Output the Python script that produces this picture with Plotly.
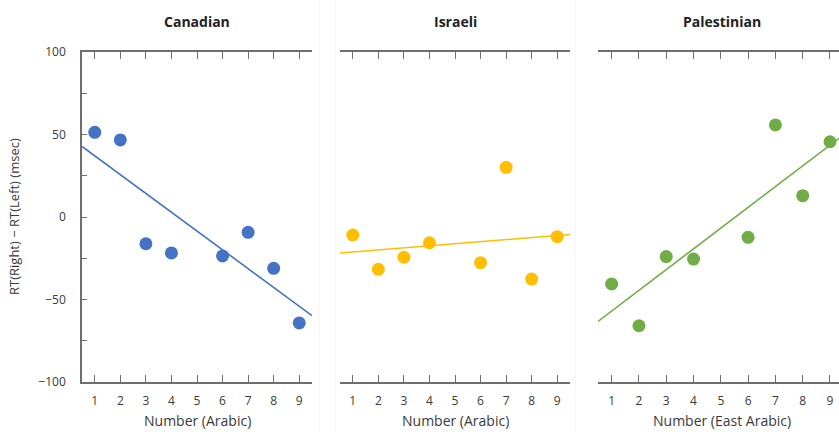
import numpy as np
import plotly.graph_objects as go

# Mean RT asymmetry per number, by participant group
numbers = [1, 2, 3, 4, 6, 7, 8, 9]
canadian = [51.3, 46.7, -16.2, -21.8, -23.6, -9.3, -31.1, -64.2]
israeli = [-10.9, -31.7, -24.4, -15.6, -27.7, 30.1, -37.6, -11.9]
palestinian = [-40.6, -65.9, -24.0, -25.5, -12.3, 55.8, 12.9, 45.6]

titles = ["Canadian", "Israeli", "Palestinian"]
xtitles = ["Number (Arabic)", "Number (Arabic)", "Number (East Arabic)"]
ytitle = "RT(Right) \u2212 RT(Left) (msec)"
colors = ["#4472c4", "#ffbf00", "#70ad47"]
x_ticks = [1, 2, 3, 4, 5, 6, 7, 8, 9]
y_ticks = [100, 75, 50, 25, 0, -25, -50, -75, -100]
y_ticktext = ["100", "", "50", "", "0", "", "\u221250", "", "\u2212100"]

W, H = 839, 432
FONT = "Open Sans"
AXIS_COLOR = "#6e6e6e"
TEXT_COLOR = "#3a3a3a"

# panel placement in pixels (left, right) and x ranges
panels_px = [(82, 312), (340, 570), (598, 839)]
x_ranges = [[0.5, 9.5], [0.5, 9.5], [0.5, 9.33]]
title_centers = [197, 455, 722]
y_top, y_bot = 52, 382

fig = go.Figure()
series = [canadian, israeli, palestinian]

for i, (vals, col) in enumerate(zip(series, colors)):
    ax = "" if i == 0 else str(i + 1)
    slope, icpt = np.polyfit(numbers, vals, 1)
    fx = np.array(x_ranges[i])
    fig.add_trace(go.Scatter(
        x=fx, y=slope * fx + icpt, mode="lines",
        line=dict(color=col, width=1.6),
        xaxis="x" + ax, yaxis="y" + ax, showlegend=False, hoverinfo="skip"))
    fig.add_trace(go.Scatter(
        x=numbers, y=vals, mode="markers",
        marker=dict(color=col, size=13, line=dict(width=0)),
        xaxis="x" + ax, yaxis="y" + ax, showlegend=False))

layout = dict(
    width=W, height=H,
    margin=dict(l=0, r=0, t=0, b=0, autoexpand=False),
    paper_bgcolor="white", plot_bgcolor="white",
    font=dict(family=FONT, color=TEXT_COLOR, size=12),
    showlegend=False,
)


def px_x(p):
    return p / W


def px_y(p):
    return (H - p) / H


ydom = [px_y(y_bot), px_y(y_top)]
annotations = []
for i in range(3):
    ax = "" if i == 0 else str(i + 1)
    l, r = panels_px[i]
    layout["xaxis" + ax] = dict(
        domain=[px_x(l), px_x(r)], range=x_ranges[i],
        tickvals=x_ticks, ticktext=[str(v) for v in x_ticks],
        ticks="inside", ticklen=7, tickwidth=1.3, tickcolor=AXIS_COLOR,
        showline=True, linecolor=AXIS_COLOR, linewidth=1.5, mirror="ticks",
        showgrid=False, zeroline=False, automargin=False,
        ticklabelstandoff=7,
        tickfont=dict(size=12, color=TEXT_COLOR),
        anchor="y" + ax, fixedrange=True,
    )
    if i == 0:
        layout["yaxis"] = dict(
            domain=ydom, range=[-100, 100],
            tickvals=y_ticks, ticktext=y_ticktext,
            ticks="inside", ticklen=5, tickwidth=1.3, tickcolor=AXIS_COLOR,
            showline=True, linecolor=AXIS_COLOR, linewidth=1.5,
            showgrid=False, zeroline=False, automargin=False,
            ticklabelstandoff=12,
            tickfont=dict(size=12, color=TEXT_COLOR),
            anchor="x", fixedrange=True,
        )
    else:
        layout["yaxis" + ax] = dict(
            domain=ydom, range=[-100, 100],
            showline=False, showticklabels=False, ticks="",
            showgrid=False, zeroline=False, automargin=False,
            anchor="x" + ax, fixedrange=True,
        )
    # panel title
    annotations.append(dict(
        text="<b>%s</b>" % titles[i], x=px_x(title_centers[i]), y=px_y(21),
        xref="paper", yref="paper", xanchor="center", yanchor="middle",
        showarrow=False, font=dict(size=14, color="#222222", family=FONT)))
    # x axis title
    annotations.append(dict(
        text=xtitles[i], x=px_x(title_centers[i]), y=px_y(420),
        xref="paper", yref="paper", xanchor="center", yanchor="middle",
        showarrow=False, font=dict(size=14, color=TEXT_COLOR, family=FONT)))

# y axis title
annotations.append(dict(
    text=ytitle, x=px_x(14), y=px_y(217), textangle=-90,
    xref="paper", yref="paper", xanchor="center", yanchor="middle",
    showarrow=False, font=dict(size=13, color=TEXT_COLOR, family=FONT)))

# tick stubs of the neighbouring axis at the right edge
layout["yaxis4"] = dict(
    domain=ydom, range=[-100, 100], overlaying="y3", anchor="x3", side="right",
    tickvals=[50, 0, -50], ticks="inside", ticklen=3, tickwidth=1.2,
    tickcolor="#888888", showticklabels=False, showline=False,
    showgrid=False, zeroline=False, automargin=False, fixedrange=True,
)

layout["annotations"] = annotations
layout["shapes"] = [
    dict(type="line", xref="paper", yref="paper", x0=px_x(p), x1=px_x(p), y0=0, y1=1,
         line=dict(color="#f3f3f3", width=1), layer="below")
    for p in (319, 335, 575)
]

fig.update_layout(**layout)
fig.write_html("out.html")
